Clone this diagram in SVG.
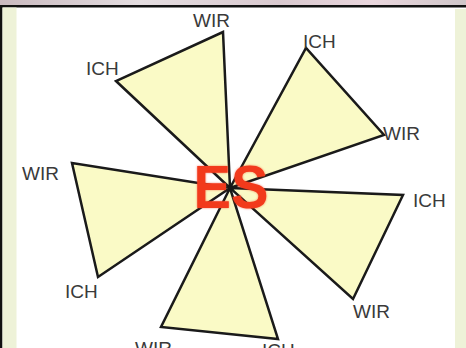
<svg xmlns="http://www.w3.org/2000/svg" width="466" height="348" viewBox="0 0 466 348">
<defs>
<linearGradient id="band" x1="0" y1="0" x2="1" y2="0">
<stop offset="0" stop-color="#c9b9bf"/>
<stop offset="0.3" stop-color="#e4dde0"/>
<stop offset="0.6" stop-color="#d9c9cf"/>
<stop offset="0.8" stop-color="#e9d6dd"/>
<stop offset="1" stop-color="#cfc6c9"/>
</linearGradient>
<filter id="glow" x="-20%" y="-20%" width="140%" height="140%">
<feGaussianBlur stdDeviation="1.2"/>
</filter>
<style>
.tri{fill:#fafac6;stroke:#1a1a1a;stroke-width:2.5;stroke-linejoin:miter}
.lbl{font-family:"Liberation Sans",Arial,sans-serif;font-size:19px;fill:#3a3a3a}
.es{font-family:"Liberation Sans",Arial,sans-serif;font-weight:bold;font-size:62px;fill:#f23a1c}
</style>
</defs>
<rect x="0" y="0" width="466" height="348" fill="#ffffff"/>
<rect x="0" y="0" width="466" height="5" fill="url(#band)"/>
<rect x="0" y="5" width="466" height="2.5" fill="#111"/>
<rect x="0" y="7" width="2.5" height="341" fill="#111"/>
<rect x="2.5" y="7.5" width="14" height="341" fill="#eef2d8"/>
<rect x="455" y="9" width="11" height="339" fill="#eef2d8"/>
<g id="connectors"></g>
<g id="t1"><polygon class="tri" points="230,188 116,81 223,32"/></g>
<g id="t2"><polygon class="tri" points="230,188 306,48 384,135"/></g>
<g id="t3"><polygon class="tri" points="230,188 403,195 353,299"/></g>
<g id="t4"><polygon class="tri" points="230,188 161,327 278,339"/></g>
<g id="t5"><polygon class="tri" points="230,188 72,163 98,277"/></g>
<g id="center">
<text class="es" x="231" y="208" text-anchor="middle" textLength="75" lengthAdjust="spacingAndGlyphs" filter="url(#glow)" opacity="0.6">ES</text>
<text class="es" x="231" y="208" text-anchor="middle" textLength="75" lengthAdjust="spacingAndGlyphs">ES</text>
</g>
<g id="labels">
<text class="lbl" x="193" y="27">WIR</text>
<text class="lbl" x="303" y="48">ICH</text>
<text class="lbl" x="86" y="75">ICH</text>
<text class="lbl" x="383" y="140">WIR</text>
<text class="lbl" x="413" y="207">ICH</text>
<text class="lbl" x="353" y="318">WIR</text>
<text class="lbl" x="22" y="180">WIR</text>
<text class="lbl" x="65" y="298">ICH</text>
<text class="lbl" x="135" y="355">WIR</text>
<text class="lbl" x="262" y="357">ICH</text>
</g>
</svg>
